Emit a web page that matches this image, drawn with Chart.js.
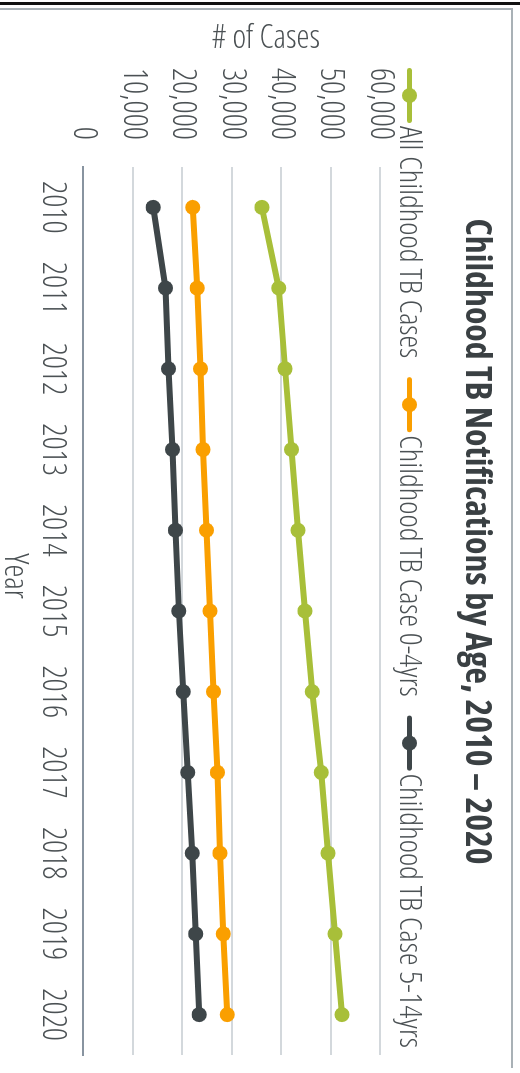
<!DOCTYPE html>
<html>
<head>
<meta charset="utf-8">
<script src="https://cdn.jsdelivr.net/npm/chart.js@4.4.1/dist/chart.umd.min.js"></script>
<style>
  html, body { margin: 0; padding: 0; background: #fff; }
  body { width: 520px; height: 1073px; position: relative; overflow: hidden; }
  #topBar { position: absolute; left: 0; top: 2px; width: 520px; height: 3px; background: #111; }
  #cardTop { position: absolute; left: 0; top: 8px; width: 513px; height: 2px; background: #a9b1b6; }
  #cardSide { position: absolute; left: 511px; top: 8px; width: 2px; height: 1060px; background: #a9b1b6; }
  #wrap {
    position: absolute; left: 0; top: 0; width: 1073px; height: 520px;
    transform-origin: 0 0; transform: translate(520px, 0) rotate(90deg);
  }
</style>
</head>
<body>
<div id="topBar"></div>
<div id="cardTop"></div>
<div id="cardSide"></div>
<div id="wrap"><canvas id="tbChart" width="1073" height="520"></canvas></div>
<script>
var years = ["2010", "2011", "2012", "2013", "2014", "2015", "2016", "2017", "2018", "2019", "2020"];
var allCases = [36100, 39500, 40800, 42100, 43400, 44800, 46300, 48100, 49500, 50900, 52300];
var cases0to4 = [22100, 23000, 23700, 24200, 24900, 25600, 26300, 27100, 27600, 28300, 29100];
var cases5to14 = [14100, 16600, 17200, 18000, 18600, 19300, 20200, 21100, 22000, 22700, 23400];
var seriesNames = ["All Childhood TB Cases", "Childhood TB Case 0-4yrs", "Childhood TB Case 5-14yrs"];
var seriesColors = ["#a8bf39", "#fa9f00", "#3e4649"];
var valueTicks = [0, 10000, 20000, 30000, 40000, 50000, 60000];
var titleText = "Childhood TB Notifications by Age, 2010 \u2013 2020";

var textColor = "#4b5154";
var lightW = "300";
var probeCtx = document.createElement("canvas").getContext("2d");

function textW(font, txt) {
    probeCtx.font = font;
    return probeCtx.measureText(txt).width;
}

// the original uses a condensed face, so look for the narrowest one installed
function pickFont() {
    var probe = "Childhood TB Notifications 0123456789";
    var mono = textW("100px monospace", probe);
    var base = textW("100px 'Liberation Sans', monospace", probe);
    var cands = [
        ["", "'Liberation Sans Narrow'"],
        ["", "'Noto Sans Condensed'"],
        ["condensed ", "'Noto Sans'"],
        ["condensed ", "'Open Sans'"],
        ["", "'Roboto Condensed'"],
        ["condensed ", "'DejaVu Sans'"]
    ];
    for (var i = 0; i < cands.length; i++) {
        var w = textW(cands[i][0] + "100px " + cands[i][1] + ", monospace", probe);
        if (Math.abs(w - mono) > 0.5 && w < base * 0.92)
            return { stretch: cands[i][0], family: cands[i][1] + ", sans-serif" };
    }
    return { stretch: "", family: "'Liberation Sans', sans-serif" };
}
var face = pickFont();

function fontStr(size, weight) {
    return face.stretch + (weight ? weight + " " : "") + size + "px " + face.family;
}
function fnt(size, weight) {
    return { family: face.family, size: size, weight: (face.stretch + (weight || "")).trim() || undefined, lineHeight: 1.2 };
}

// font size that gives a string the width it has in the original
function fitSize(txt, target, weight) {
    var w = textW(fontStr(100, weight), txt);
    return Math.round(100 * target / w * 10) / 10;
}
var titleSize = fitSize(titleText, 647, "bold");
var legendSize = fitSize(seriesNames[0], 232, lightW);
var tickSize = fitSize("60,000", 72, lightW);
var axisTitleSize = fitSize("# of Cases", 108, lightW);

// layout numbers (canvas frame, before the page rotates it)
var padLeft = 28;
var titleLine = titleSize * 1.2;
var titleTop = 43.5 - titleLine / 2;
var titleBottom = 140 - titleTop - titleLine;

var datasets = [allCases, cases0to4, cases5to14].map(function (vals, i) {
    return {
        label: seriesNames[i],
        data: vals,
        borderColor: seriesColors[i],
        backgroundColor: seriesColors[i],
        borderWidth: 6,
        pointRadius: 7.5,
        pointHoverRadius: 7.5,
        pointBorderWidth: 0,
        tension: 0
    };
});

// legend (line + dot markers) and axis titles, drawn by hand
var extras = {
    id: "extras",
    afterDraw: function (chart) {
        var ctx = chart.ctx;
        ctx.save();
        ctx.textBaseline = "middle";

        var x = 68, y = 110.5;
        ctx.font = fontStr(legendSize, lightW);
        ctx.textAlign = "left";
        seriesNames.forEach(function (name, i) {
            ctx.strokeStyle = seriesColors[i];
            ctx.fillStyle = seriesColors[i];
            ctx.lineWidth = 5;
            ctx.lineCap = "round";
            ctx.beginPath();
            ctx.moveTo(x + 2.5, y);
            ctx.lineTo(x + 52.5, y);
            ctx.stroke();
            ctx.beginPath();
            ctx.arc(x + 27.5, y, 7.5, 0, Math.PI * 2);
            ctx.fill();
            ctx.fillStyle = textColor;
            ctx.fillText(name, x + 58, y);
            x += 58 + ctx.measureText(name).width + 19;
        });

        ctx.fillStyle = textColor;
        ctx.font = fontStr(axisTitleSize, lightW);
        ctx.textAlign = "center";
        ctx.fillText("Year", 576, 505.5);
        ctx.translate(38.5, 254);
        ctx.rotate(-Math.PI / 2);
        ctx.fillText("# of Cases", 0, 0);
        ctx.restore();
    }
};

var chart = new Chart("tbChart", {
    type: "line",
    data: { labels: years, datasets: datasets },
    plugins: [extras],
    options: {
        responsive: false,
        devicePixelRatio: 1,
        animation: false,
        layout: { padding: { left: padLeft, right: 18, top: 0, bottom: 0 } },
        plugins: {
            tooltip: { enabled: false },
            legend: { display: false },
            title: {
                display: true,
                text: titleText,
                color: "#3a4043",
                font: fnt(titleSize, "bold"),
                padding: { top: titleTop, bottom: titleBottom }
            }
        },
        scales: {
            x: {
                offset: true,
                grid: { display: false, drawTicks: false },
                border: { display: true, color: "#8894a0", width: 2 },
                ticks: {
                    color: textColor,
                    font: fnt(tickSize, lightW),
                    padding: 468 - 436.5 - tickSize * 0.6,
                    maxRotation: 0
                },
                afterFit: function (s) { s.height = 83.5; }
            },
            y: {
                min: 0,
                max: 60000,
                grid: { color: "#d3d8dc", lineWidth: 2, drawTicks: false },
                border: { display: false },
                afterBuildTicks: function (s) {
                    s.ticks = valueTicks.map(function (v) { return { value: v }; });
                },
                ticks: {
                    color: textColor,
                    font: fnt(tickSize, lightW),
                    padding: 27,
                    callback: function (v) { return v.toLocaleString("en-US"); }
                },
                afterFit: function (s) { s.width = 167 - padLeft; }
            }
        }
    }
});
</script>
</body>
</html>
